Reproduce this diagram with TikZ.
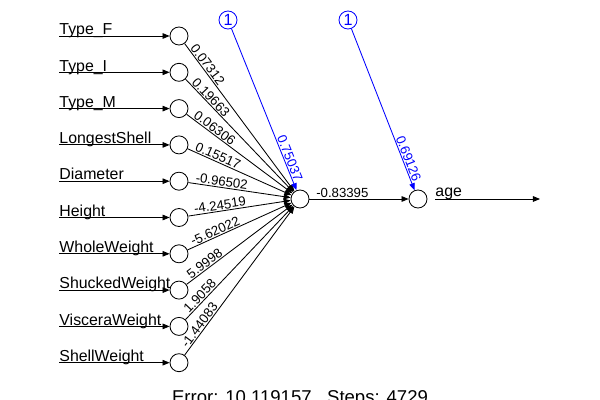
\documentclass[tikz,border=0pt]{standalone}
\usepackage{fontspec}
\setmainfont{Liberation Sans}
\usetikzlibrary{positioning}
\usetikzlibrary{arrows.meta}
\usetikzlibrary{calc}
\usetikzlibrary{math}

\begin{document}
\begin{tikzpicture}[x=0.025cm,y=-0.025cm,line width=0.6pt,
    neuron/.style={draw,circle,minimum size=0.45cm,inner sep=0pt},
    biasnode/.style={neuron,blue,font=\fontsize{11.5}{12}\selectfont},
    conn/.style={-{Triangle[length=5pt,width=4pt]}},
    inlabel/.style={anchor=base west,inner sep=0pt,font=\fontsize{11.3}{12}\selectfont},
    wlabel/.style={midway,sloped,anchor=south west,inner sep=0.6pt,font=\fontsize{9.4}{10}\selectfont}]

  \tikzmath{
    \xin  = 179;  % x of the input neurons
    \ytop = 36;   % y of the first input
    \ystp = 36.3; % step between inputs
    \xarr = 59;   % start of the input arrows
  }

  \useasboundingbox (0,0) rectangle (600,400);

  % hidden and output neuron
  \node[neuron] (h) at (300,199) {};
  \node[neuron] (o) at (418,199) {};

  % inputs with their weights
  \foreach \lab/\w [count=\k] in {Type\_F/0.07312, Type\_I/0.19663, Type\_M/0.06306,
      LongestShell/0.15517, Diameter/-0.96502, Height/-4.24519,
      WholeWeight/-5.62022, ShuckedWeight/5.9998, VisceraWeight/1.9058,
      ShellWeight/-1.44083} {
    \pgfmathsetmacro{\y}{\ytop+(\k-1)*\ystp}
    \node[neuron] (i\k) at (\xin,\y) {};
    \coordinate (s\k) at (\xarr,\y);
    \draw[conn] (s\k) -- (i\k);
    \node[inlabel] (l\k) at ($(s\k)+(0,-1.2)$) {\lab};
    \draw[conn] (i\k) -- (h);
    \path (i\k.center) -- ($(i\k.center)!0.75cm!(h.center)$) node[wlabel] {\w};
  }

  % bias of the hidden neuron
  \node[biasnode] (b1) at (228,20) {1};
  \draw[conn,blue] (b1) -- (h);
  \path (b1.center) -- ($(b1.center)!6.3cm!(h.center)$) node[wlabel,blue] {0.75037};

  % bias of the output neuron
  \node[biasnode] (b2) at (348,20) {1};
  \draw[conn,blue] (b2) -- (o);
  \path (b2.center) -- ($(b2.center)!6.3cm!(o.center)$) node[wlabel,blue] {0.69126};

  % hidden to output
  \draw[conn] (h) -- (o);
  \path (h.center) -- ($(h.center)!0.75cm!(o.center)$) node[wlabel] {-0.83395};

  % output arrow
  \coordinate (oe) at (435,199);
  \coordinate (oa) at (540,199);
  \draw[conn] (oe) -- (oa);
  \node[inlabel] (age) at ($(oe)+(0,-2)$) {age};

  \node[anchor=base,inner sep=0pt,font=\fontsize{13.2}{14}\selectfont] (err) at (300,403)
    {Error: 10.119157\ \ \ Steps: 4729};

\end{tikzpicture}
\end{document}
